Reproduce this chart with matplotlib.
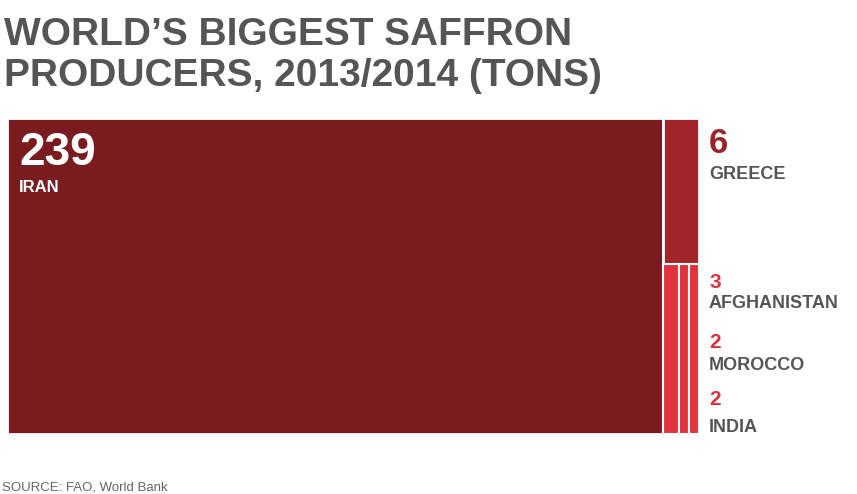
import matplotlib.pyplot as plt
import matplotlib.patches as mpatches

# ---------------------------------------------------------------------------
# Data (tons, 2013/2014)
# ---------------------------------------------------------------------------
countries = ['IRAN', 'GREECE', 'AFGHANISTAN', 'MOROCCO', 'INDIA']
tons = [239, 6, 3, 2, 2]

# ---------------------------------------------------------------------------
# Palette
# ---------------------------------------------------------------------------
IRAN_C = '#7a1c1f'
GREECE_C = '#a0252a'
SMALL_C = '#e0333b'
GREECE_NUM = '#9b2328'
SMALL_NUM = '#d9323a'
GRAY = '#555555'
SRC_GRAY = '#666666'

plt.rcParams['font.family'] = ['Liberation Sans', 'DejaVu Sans']

W, H = 857, 494
fig = plt.figure(figsize=(W / 100, H / 100), dpi=100)
fig.patch.set_facecolor('white')


def fx(px):
    return px / W


def fy(py):
    return 1 - py / H


# treemap axes: pixel box 7..699 x 118..434
ax = fig.add_axes([fx(7), fy(434), fx(692), (434 - 118) / H])
ax.set_xlim(0, sum(tons))
ax.set_ylim(0, 1)
ax.axis('off')

# Iran: big block on the left
iran = tons[0]
ax.add_patch(mpatches.Rectangle((0, 0), iran, 1, facecolor=IRAN_C,
                                edgecolor='white', linewidth=2))

# right column: Greece on top, the rest as vertical strips below
rest = tons[1:]
col_w = sum(rest)
g_h = rest[0] / col_w
ax.add_patch(mpatches.Rectangle((iran, 1 - g_h), col_w, g_h,
                                facecolor=GREECE_C, edgecolor='white',
                                linewidth=2))
small = rest[1:]
x0 = iran
strip_h = 1 - g_h
for v in small:
    w = col_w * v / sum(small)
    ax.add_patch(mpatches.Rectangle((x0, 0), w, strip_h, facecolor=SMALL_C,
                                    edgecolor='white', linewidth=1.5))
    x0 += w

# ---------------------------------------------------------------------------
# Title
# ---------------------------------------------------------------------------
fig.text(fx(4), fy(45), "WORLD\u2019S BIGGEST SAFFRON", fontsize=28,
         fontweight='bold', color=GRAY, ha='left', va='baseline')
fig.text(fx(4), fy(86), "PRODUCERS, 2013/2014 (TONS)", fontsize=28,
         fontweight='bold', color=GRAY, ha='left', va='baseline')

# ---------------------------------------------------------------------------
# Labels
# ---------------------------------------------------------------------------
fig.text(fx(19), fy(165), str(tons[0]), fontsize=33, fontweight='bold',
         color='white', ha='left', va='baseline')
fig.text(fx(19), fy(192), countries[0], fontsize=12, fontweight='bold',
         color='white', ha='left', va='baseline')

num_y = [153, 288, 348, 405]
name_y = [179, 308, 370, 432]
num_size = [25, 15, 15, 15]
num_col = [GREECE_NUM, SMALL_NUM, SMALL_NUM, SMALL_NUM]
for i, (c, v) in enumerate(zip(countries[1:], tons[1:])):
    fig.text(fx(709), fy(num_y[i]), str(v), fontsize=num_size[i],
             fontweight='bold', color=num_col[i], ha='left', va='baseline')
    fig.text(fx(709), fy(name_y[i]), c, fontsize=13, fontweight='bold',
             color=GRAY, ha='left', va='baseline')

# source
fig.text(fx(2), fy(490), 'SOURCE: FAO, World Bank', fontsize=9.5,
         color=SRC_GRAY, ha='left', va='baseline')

plt.savefig('out.png', dpi=100, facecolor='white')
plt.close()
